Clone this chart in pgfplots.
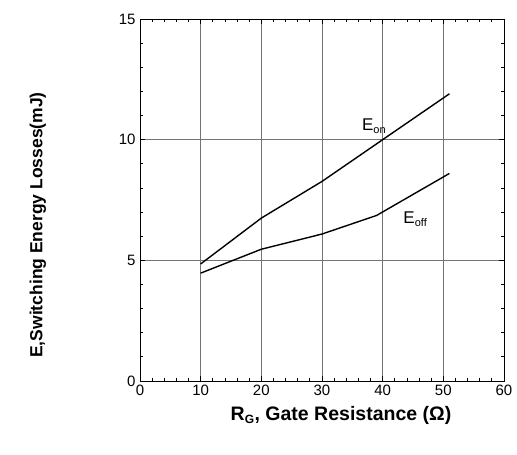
\documentclass[border=0pt]{standalone}
\usepackage{pgfplots}
\pgfplotsset{compat=1.18}
\usepackage{fontspec}
\setmainfont{Liberation Sans}

\pgfplotstableread{
x    y
10   4.85
20   6.75
30   8.27
40   10.0
51   11.9
}\eon

\pgfplotstableread{
x    y
10   4.47
20   5.46
30   6.09
39   6.86
51   8.6
}\eoff

\begin{document}
\begin{tikzpicture}
\begin{axis}[
  at={(0,0)}, anchor=south west,
  scale only axis,
  width=364bp, height=362bp,
  xmin=0, xmax=60, ymin=0, ymax=15,
  xtick={0,10,...,60}, ytick={0,5,10,15},
  minor x tick num=4, minor y tick num=4,
  tick align=inside,
  major tick length=5bp, minor tick length=3bp,
  every tick/.style={black, line width=0.8pt},
  axis line style={black, line width=0.9pt},
  grid=major,
  major grid style={black!55, line width=0.7pt},
  /pgf/number format/assume math mode=true,
  ticklabel style={font=\fontsize{15bp}{17bp}\selectfont},
  xticklabel style={yshift=-1bp},
  yticklabel style={xshift=-1bp},
  clip=false,
]
\addplot[black, line width=1.4pt] table[x=x, y=y] {\eon};
\addplot[black, line width=1.4pt] table[x=x, y=y] {\eoff};
\node[font=\fontsize{17bp}{19bp}\selectfont] at (axis cs:38.6,10.55) {E\textsubscript{\fontsize{11bp}{12bp}\selectfont on}};
\node[font=\fontsize{17bp}{19bp}\selectfont] at (axis cs:45.4,6.7) {E\textsubscript{\fontsize{11bp}{12bp}\selectfont off}};
\end{axis}
\node[font=\bfseries\fontsize{17.5bp}{19bp}\selectfont, rotate=90] at (-102bp,156bp) {E,Switching Energy Losses(mJ)};
\node[font=\bfseries\fontsize{19.5bp}{21bp}\selectfont] at (201bp,-34bp) {R\textsubscript{\fontsize{12bp}{13bp}\selectfont G}, Gate Resistance (Ω)};
\pgfresetboundingbox
\path (-140bp,-74bp) rectangle (377bp,381bp);
\end{tikzpicture}
\end{document}
